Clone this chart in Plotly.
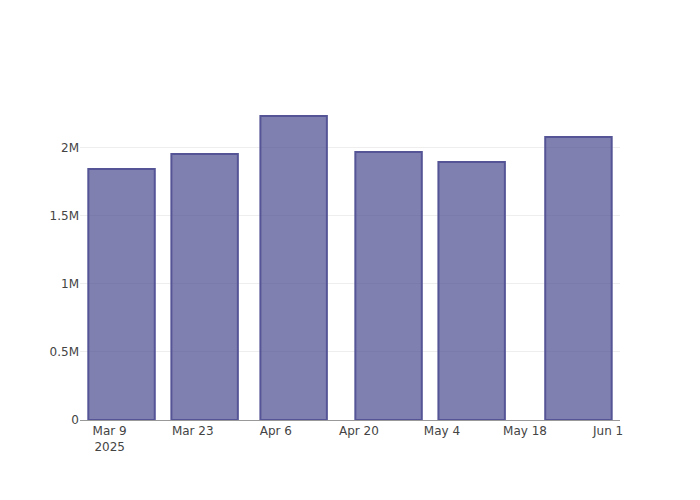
import plotly.graph_objects as go

dates = ["2025-03-11", "2025-03-25", "2025-04-09", "2025-04-25", "2025-05-09", "2025-05-27"]
values = [1846000, 1956000, 2235000, 1971000, 1897000, 2081000]

fig = go.Figure(
    go.Bar(
        x=dates,
        y=values,
        marker=dict(color="rgba(66,66,137,0.67)",
                    line=dict(color="rgb(84,84,150)", width=2)),
    )
)
fig.update_layout(
    template="plotly_white",
    width=700,
    height=500,
    showlegend=False,
    font=dict(family="DejaVu Sans", color="#444"),
    xaxis=dict(showline=True, linecolor="#999", linewidth=1, showgrid=False),
    yaxis=dict(gridcolor="#eee", zeroline=False),
)
fig.write_html(
    "out.html",
    config={"displayModeBar": False},
    post_script="document.body.style.margin='0';document.body.style.overflow='hidden';",
)
